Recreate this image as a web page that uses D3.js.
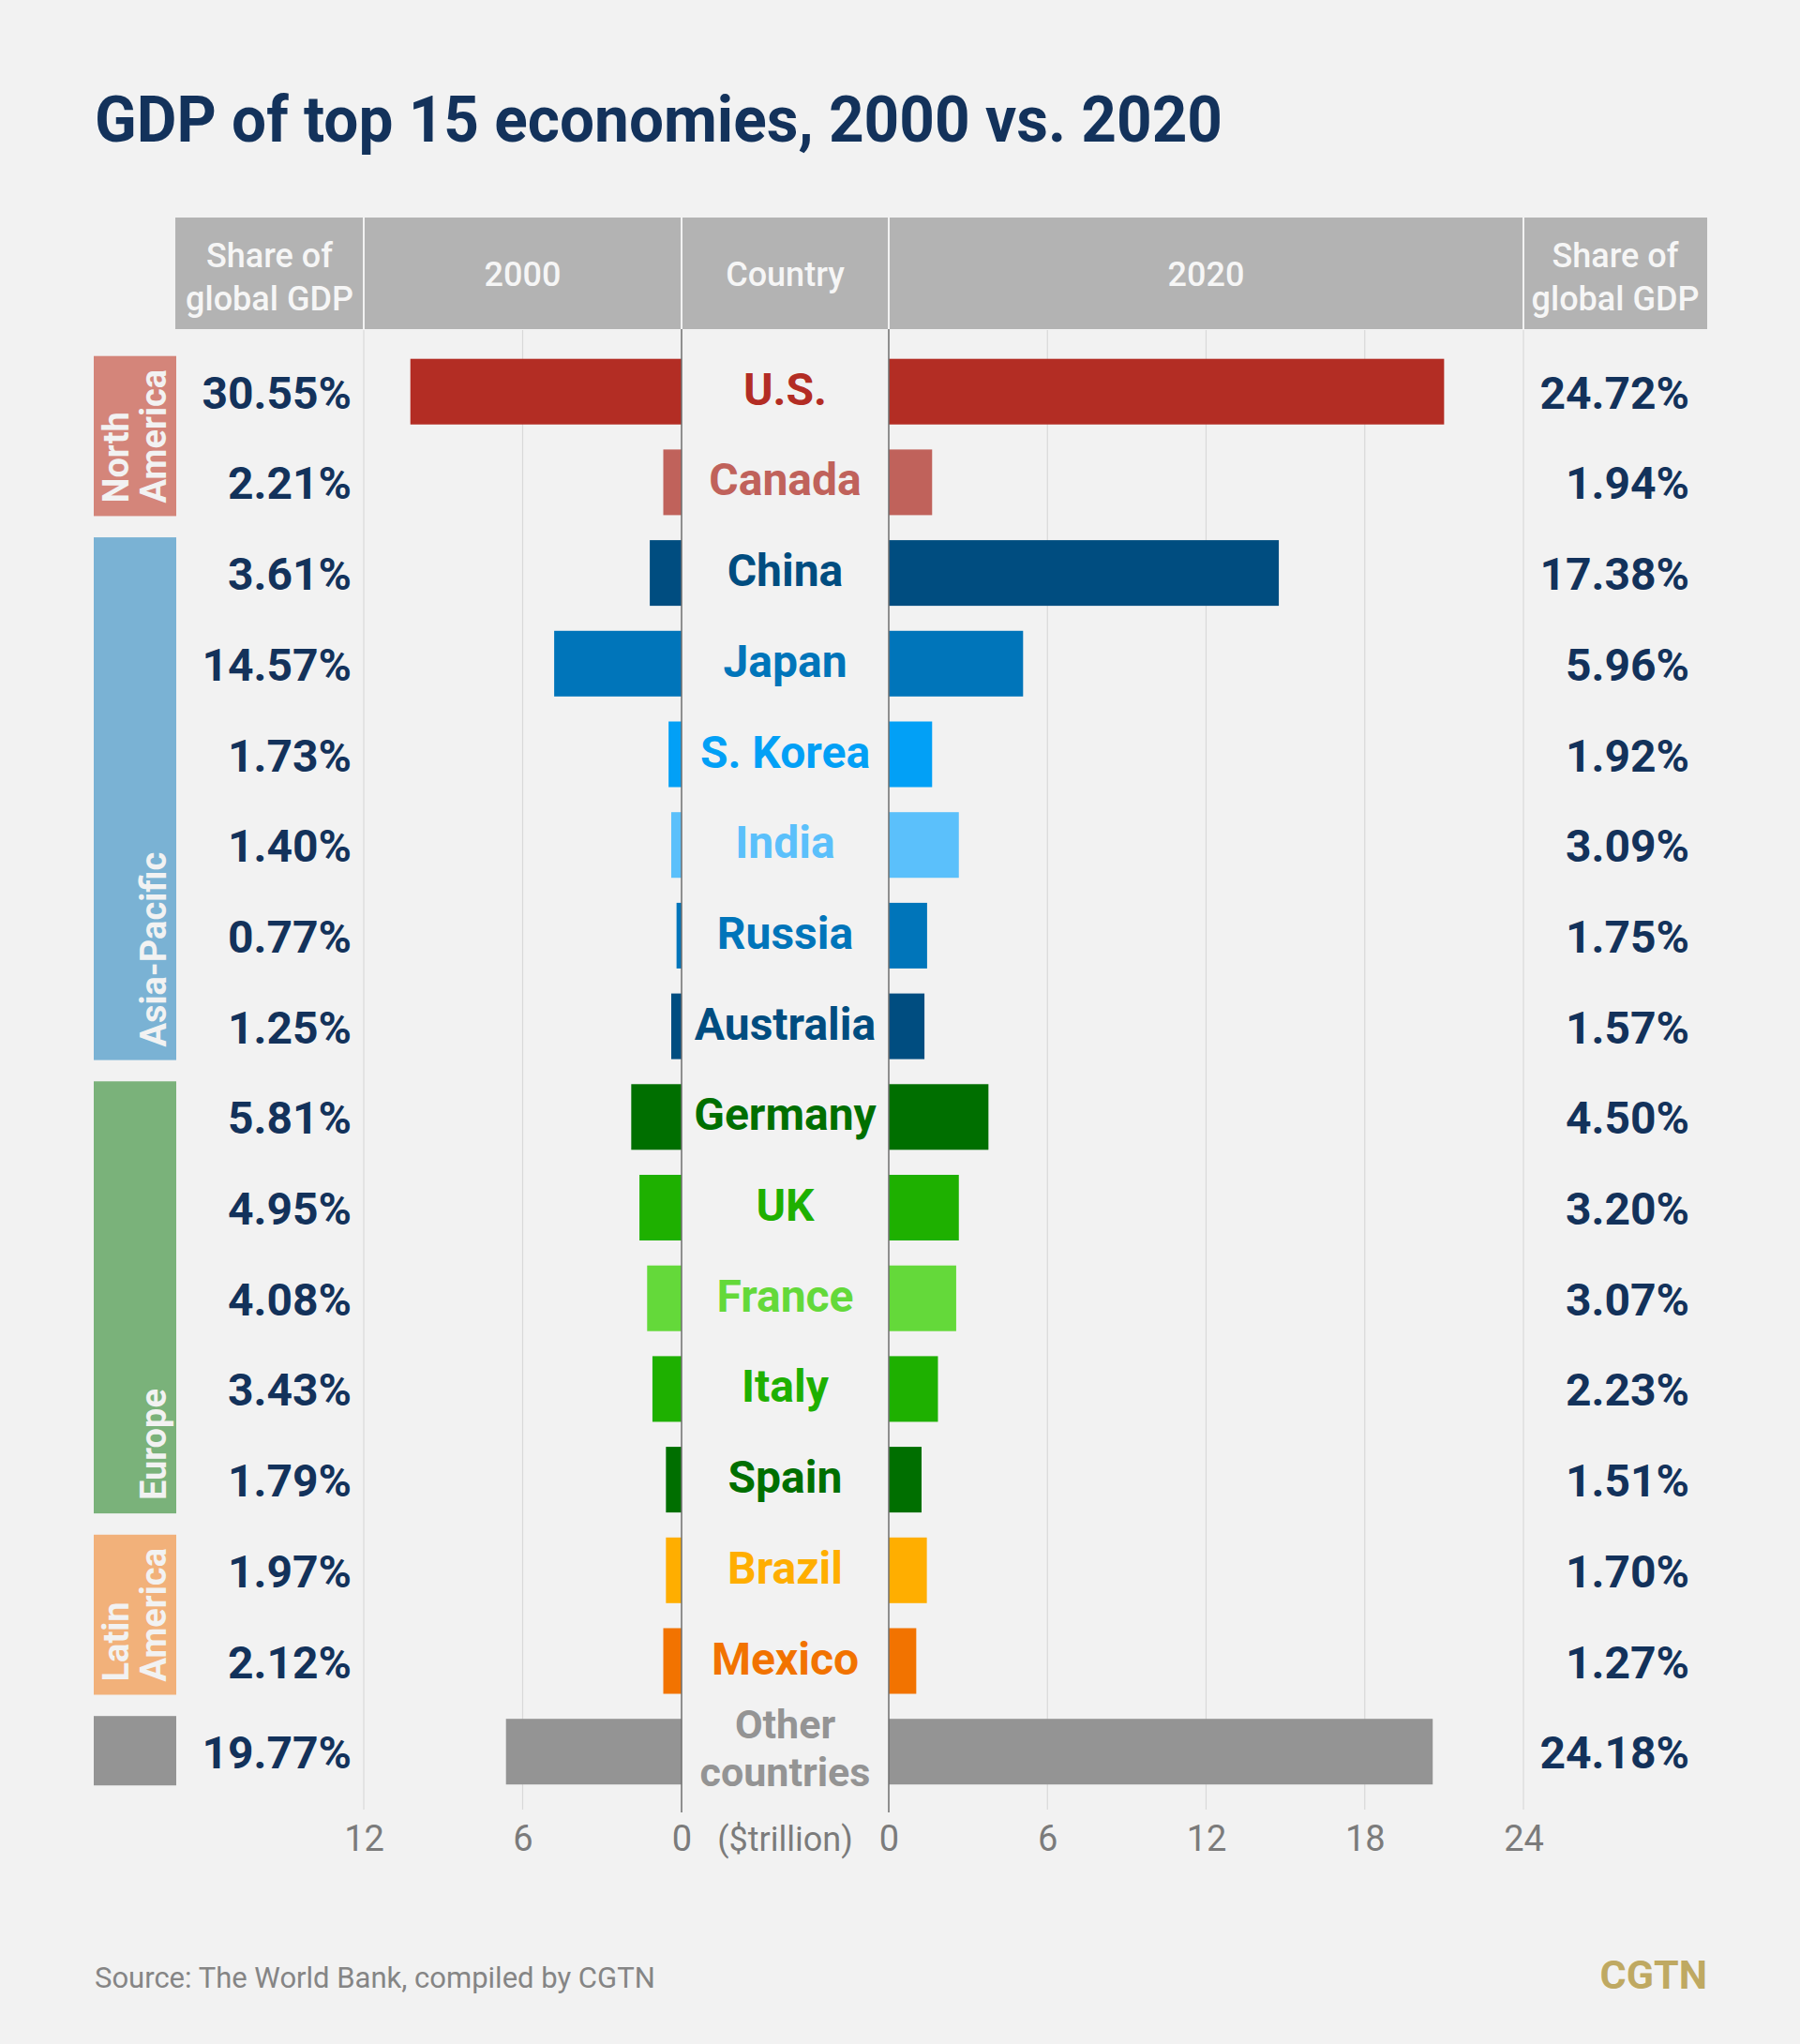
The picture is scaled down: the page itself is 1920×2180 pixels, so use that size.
<!DOCTYPE html>
<html><head><meta charset="utf-8">
<script src="https://cdn.jsdelivr.net/npm/d3@7"></script>
<style>
html,body{margin:0;padding:0;background:#f2f2f2;}
svg{display:block;font-family:Roboto,"Noto Sans",sans-serif;}
</style></head><body>
<svg id="chart" width="1920" height="2180"></svg>
<script>
// ---------- data ----------
const titleText = "GDP of top 15 economies, 2000 vs. 2020";
const countries = ["U.S.","Canada","China","Japan","S. Korea","India","Russia","Australia","Germany","UK","France","Italy","Spain","Brazil","Mexico","Other countries"];
const regionOf  = ["North America","North America","Asia-Pacific","Asia-Pacific","Asia-Pacific","Asia-Pacific","Asia-Pacific","Asia-Pacific","Europe","Europe","Europe","Europe","Europe","Latin America","Latin America","Other"];
const gdp2000   = [10.24,0.69,1.20,4.81,0.49,0.39,0.19,0.39,1.90,1.59,1.30,1.10,0.59,0.59,0.69,6.63];   // $ trillion
const gdp2020   = [21.00,1.64,14.75,5.08,1.64,2.65,1.45,1.35,3.77,2.65,2.55,1.86,1.24,1.44,1.04,20.57]; // $ trillion
const share2000 = ["30.55%","2.21%","3.61%","14.57%","1.73%","1.40%","0.77%","1.25%","5.81%","4.95%","4.08%","3.43%","1.79%","1.97%","2.12%","19.77%"];
const share2020 = ["24.72%","1.94%","17.38%","5.96%","1.92%","3.09%","1.75%","1.57%","4.50%","3.20%","3.07%","2.23%","1.51%","1.70%","1.27%","24.18%"];
const barColors = ["#b32d24","#c0625b","#004d80","#0075ba","#02a0f6","#5bc0fb","#0075ba","#004d80","#006f00","#1eb000","#64d93a","#1eb000","#006f00","#ffae00","#f27300","#949494"];
const regions      = ["North America","Asia-Pacific","Europe","Latin America","Other"];
const regionLabels = [["North","America"],["Asia-Pacific"],["Europe"],["Latin","America"],[]];
const regionColors = ["#d4857a","#7ab2d4","#7ab27a","#f2b17a","#949494"];
const ticks2000 = [12,6,0];
const ticks2020 = [0,6,12,18,24];
const headerLabels = [["Share of","global GDP"],["2000"],["Country"],["2020"],["Share of","global GDP"]];

// ---------- drawing ----------
const W = 1920, H = 2180;
const navy = "#13325b";
const svg = d3.select("#chart");
svg.append("rect").attr("width",W).attr("height",H).attr("fill","#f2f2f2");

svg.append("text").attr("x",101).attr("y",151)
  .attr("font-size",68).attr("font-weight",700).attr("fill",navy)
  .attr("textLength",1203).attr("lengthAdjust","spacingAndGlyphs")
  .text(titleText);

const y  = d3.scaleBand().domain(countries).range([369.35,1916.55]).paddingInner(0.276).paddingOuter(0.138);
const xL = d3.scaleLinear().domain([0,12]).range([727,388]);
const xR = d3.scaleLinear().domain([0,24]).range([948,1625]);
const bw = y.bandwidth();

// header
const headerTop = 232, headerBot = 351;
const colEdges = [187, xL(12), xL(0), xR(0), xR(24), 1821];
const hdr = svg.append("g");
headerLabels.forEach((lab,i)=>{
  const x0 = colEdges[i], x1 = colEdges[i+1];
  hdr.append("rect").attr("x",x0 + (i>0?1:0)).attr("y",headerTop)
     .attr("width",x1-x0-(i>0?1:0)-(i<4?1:0)).attr("height",headerBot-headerTop).attr("fill","#b3b3b3");
  const cx = (x0+x1)/2;
  const t = hdr.append("text").attr("x",cx).attr("text-anchor","middle")
    .attr("font-size",36).attr("font-weight",500).attr("fill","#f6f6f6");
  if (lab.length===2){
    t.append("tspan").attr("x",cx).attr("y",285).text(lab[0]);
    t.append("tspan").attr("x",cx).attr("y",331).text(lab[1]);
  } else {
    t.attr("y",305).text(lab[0]);
  }
});

// gridlines
const gridTop = headerBot+1, gridBot = 1930;
const grid = svg.append("g").attr("stroke","#d9d9d9").attr("stroke-width",1.2);
ticks2000.filter(d=>d!==0).forEach(d=>grid.append("line").attr("x1",xL(d)).attr("x2",xL(d)).attr("y1",gridTop).attr("y2",gridBot));
ticks2020.filter(d=>d!==0).forEach(d=>grid.append("line").attr("x1",xR(d)).attr("x2",xR(d)).attr("y1",gridTop).attr("y2",gridBot));

// region blocks
regions.forEach((r,ri)=>{
  const idx = countries.map((c,i)=>i).filter(i=>regionOf[i]===r);
  const top = y(countries[idx[0]]) - 3;
  const bot = y(countries[idx[idx.length-1]]) + bw + 1;
  svg.append("rect").attr("x",100).attr("y",top).attr("width",88).attr("height",bot-top).attr("fill",regionColors[ri]);
  const lines = regionLabels[ri];
  const baseXs = lines.length===2 ? [137,177] : [177];
  lines.forEach((ln,li)=>{
    svg.append("text").attr("transform",`translate(${baseXs[li]},${bot-14}) rotate(-90)`)
      .attr("font-size",38).attr("font-weight",700).attr("fill","#f2f2f2").text(ln);
  });
});

// bars
svg.append("g").selectAll("rect").data(countries).join("rect")
  .attr("x",(d,i)=>xL(gdp2000[i])).attr("y",d=>y(d))
  .attr("width",(d,i)=>xL(0)-xL(gdp2000[i])).attr("height",bw)
  .attr("fill",(d,i)=>barColors[i]);
svg.append("g").selectAll("rect").data(countries).join("rect")
  .attr("x",xR(0)).attr("y",d=>y(d))
  .attr("width",(d,i)=>xR(gdp2020[i])-xR(0)).attr("height",bw)
  .attr("fill",(d,i)=>barColors[i]);

// zero lines
[xL(0),xR(0)].forEach(x=>svg.append("line").attr("x1",x).attr("x2",x).attr("y1",headerBot).attr("y2",1933)
  .attr("stroke","#6e6e6e").attr("stroke-width",1.5));

// share labels
svg.append("g").selectAll("text").data(countries).join("text")
  .attr("x",375).attr("y",d=>y(d)+bw/2+18).attr("text-anchor","end")
  .attr("font-size",48).attr("font-weight",700).attr("fill",navy)
  .text((d,i)=>share2000[i]);
svg.append("g").selectAll("text").data(countries).join("text")
  .attr("x",1802).attr("y",d=>y(d)+bw/2+18).attr("text-anchor","end")
  .attr("font-size",48).attr("font-weight",700).attr("fill",navy)
  .text((d,i)=>share2020[i]);

// country labels
const midX = (xL(0)+xR(0))/2;
countries.forEach((c,i)=>{
  const cy = y(c)+bw/2;
  const words = c==="Other countries" ? ["Other","countries"] : [c];
  if (words.length===2){
    svg.append("text").attr("x",midX).attr("y",cy-14).attr("text-anchor","middle")
      .attr("font-size",43).attr("font-weight",700).attr("fill",barColors[i]).text(words[0]);
    svg.append("text").attr("x",midX).attr("y",cy+37).attr("text-anchor","middle")
      .attr("font-size",43).attr("font-weight",700).attr("fill",barColors[i]).text(words[1]);
  } else {
    svg.append("text").attr("x",midX).attr("y",cy+14).attr("text-anchor","middle")
      .attr("font-size",48).attr("font-weight",700).attr("fill",barColors[i]).text(c);
  }
});

// axes
const axisY = 1947;
function styleAxis(g){
  g.select(".domain").remove();
  g.attr("font-family","Roboto").attr("font-size",38).style("color","#7b7b7b");
  g.selectAll("line").remove();
}
svg.append("g").attr("transform",`translate(0,${axisY})`)
  .call(d3.axisBottom(xL).tickValues(ticks2000).tickSize(0).tickPadding(0)).call(styleAxis);
svg.append("g").attr("transform",`translate(0,${axisY})`)
  .call(d3.axisBottom(xR).tickValues(ticks2020).tickSize(0).tickPadding(0)).call(styleAxis);
svg.append("text").attr("x",midX).attr("y",1974).attr("text-anchor","middle")
  .attr("font-size",36).attr("fill","#7b7b7b").text("($trillion)");

// footer
svg.append("text").attr("x",101).attr("y",2120).attr("font-size",31).attr("fill","#858585")
  .text("Source: The World Bank, compiled by CGTN");
svg.append("text").attr("x",1821).attr("y",2121).attr("text-anchor","end")
  .attr("font-size",43).attr("font-weight",700).attr("fill","#bfa962").text("CGTN");
</script>
</body></html>
